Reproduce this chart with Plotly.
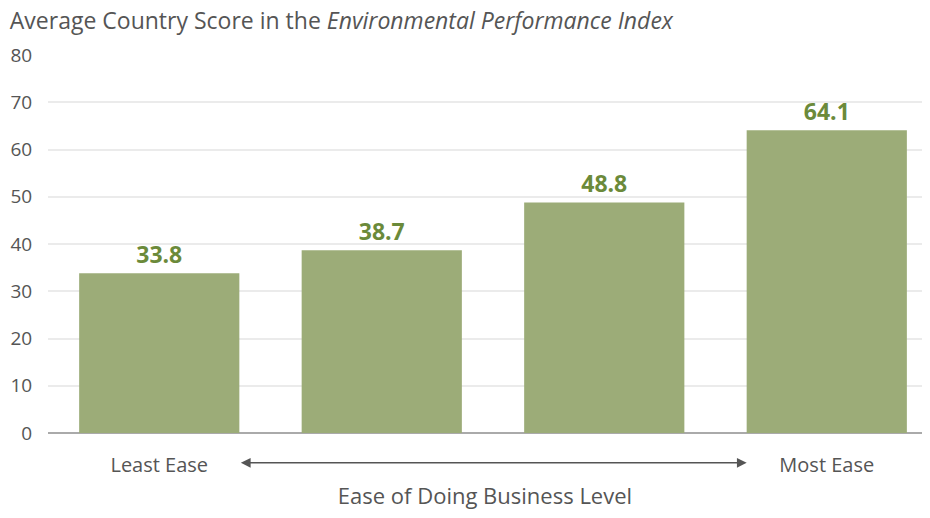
import plotly.graph_objects as go

positions = [0, 1, 2, 3]
values = [33.8, 38.7, 48.8, 64.1]
value_labels = ["33.8", "38.7", "48.8", "64.1"]
tick_positions = [0, 3]
tick_labels = ["Least Ease", "Most Ease"]
y_ticks = [0, 10, 20, 30, 40, 50, 60, 70, 80]

FONT = "Open Sans"
GRAY = "#555555"

fig = go.Figure()
fig.add_trace(go.Bar(
    x=positions, y=values, width=0.72,
    marker=dict(color="#9cac78", line=dict(width=0)),
    text=value_labels, textposition="outside", cliponaxis=False,
    textfont=dict(family=FONT, size=23, color="#6b8a3a", weight="bold"),
))

fig.update_layout(
    width=914, height=502,
    margin=dict(l=40, r=0, t=47, b=77, autoexpand=False),
    paper_bgcolor="white", plot_bgcolor="white",
    showlegend=False,
    font=dict(family=FONT, color=GRAY),
    title=dict(
        text="Average Country Score in the <i>Environmental Performance Index</i>",
        x=0.002, xanchor="left", y=0.975, yanchor="middle",
        font=dict(family=FONT, size=23, color=GRAY),
    ),
    xaxis=dict(
        range=[-0.5, 3.428], tickvals=tick_positions, ticktext=tick_labels,
        showgrid=False, zeroline=False, showline=False, automargin=False,
        ticks="outside", ticklen=14, tickcolor="rgba(0,0,0,0)",
        tickfont=dict(family=FONT, size=20, color=GRAY),
        title=dict(text="Ease of Doing Business Level", standoff=19,
                   font=dict(family=FONT, size=22, color=GRAY)),
    ),
    yaxis=dict(
        range=[0, 80], tickvals=y_ticks, automargin=False,
        showgrid=True, gridcolor="#ebebeb", gridwidth=1.5,
        zeroline=True, zerolinecolor="#aaaaaa", zerolinewidth=2,
        showline=False,
        ticks="outside", ticklen=11, tickcolor="rgba(0,0,0,0)",
        tickfont=dict(family=FONT, size=19, color=GRAY),
    ),
    bargap=0.28,
)

fig.add_annotation(
    x=2.64, y=-0.079, xref="x", yref="paper",
    ax=0.36, ay=0, axref="x", ayref="pixel",
    text="", showarrow=True, arrowhead=2, arrowside="end+start",
    arrowsize=1.3, arrowwidth=1.5, arrowcolor=GRAY,
)

fig.write_html("out.html")
